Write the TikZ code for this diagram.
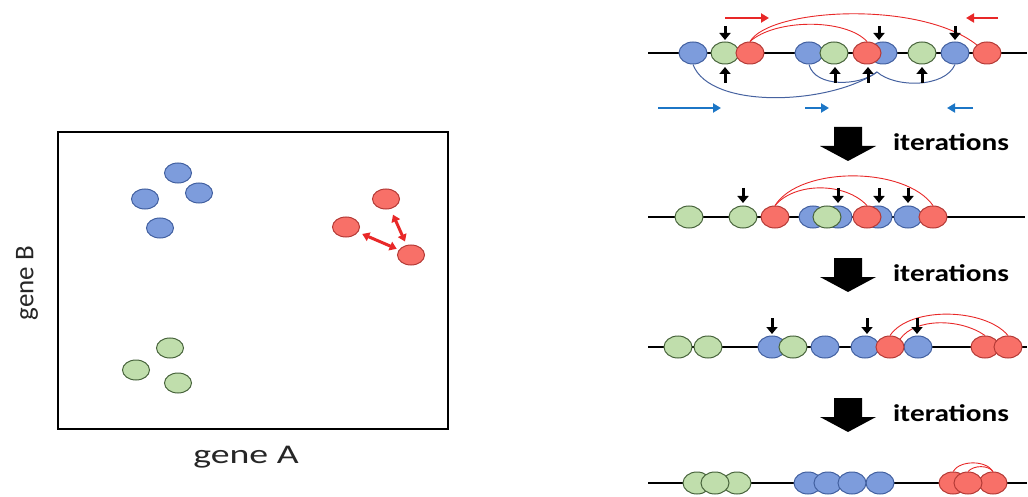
\documentclass[tikz,border=0pt]{standalone}
\usepackage{fontspec}
\newfontfamily\carl{Carlito}
\usetikzlibrary{shapes.geometric,arrows.meta,calc}
\definecolor{bfill}{RGB}{125,156,220}
\definecolor{bline}{RGB}{66,96,160}
\definecolor{gfill}{RGB}{192,222,172}
\definecolor{gline}{RGB}{72,100,60}
\definecolor{rfill}{RGB}{248,112,104}
\definecolor{rline}{RGB}{180,58,54}
\definecolor{arcred}{RGB}{232,40,40}
\definecolor{arcblue}{RGB}{70,98,160}
\definecolor{arrblue}{RGB}{28,118,198}
\begin{document}
\begin{tikzpicture}[x=1pt,y=-1pt,
  dot/.style={ellipse,draw,line width=1pt,inner sep=0pt,minimum width=28pt,minimum height=22pt},
  bdot/.style={dot,fill=bfill,draw=bline},
  gdot/.style={dot,fill=gfill,draw=gline},
  rdot/.style={dot,fill=rfill,draw=rline},
  pdot/.style={minimum width=27pt,minimum height=20pt},
  chain/.style={line width=1.6pt,black},
  pointer/.style={line width=3pt,-{Triangle[width=11pt,length=7pt]}},
  redarc/.style={arcred,line width=0.9pt},
  bluearc/.style={arcblue,line width=1pt},
  redmove/.style={arcred,line width=2.8pt,-{Triangle[width=9pt,length=8pt]}},
  bluemove/.style={arrblue,line width=2.8pt,-{Triangle[width=9pt,length=8pt]}},
  pull/.style={arcred,line width=3pt,{Triangle[width=9pt,length=7pt]}-{Triangle[width=9pt,length=7pt]}},
  iterlabel/.style={font=\carl\bfseries\fontsize{24}{24}\selectfont,anchor=center},
  axislabel/.style={font=\carl\fontsize{27}{27}\selectfont,text=black!85}
]
\useasboundingbox (0,0) rectangle (1028,497);

% ---------- scatter plot: gene A vs gene B ----------
\node[draw,line width=2.2pt,minimum width=390pt,minimum height=297pt,anchor=north west,inner sep=0pt] (plot) at (57,131) {};
\node[axislabel] (xlab) at (246,457) {\scalebox{1.4}[1]{gene A}};
\node[axislabel,rotate=90] (ylab) at (27,283) {gene B};

\node[bdot,pdot] (pb1) at (178,173) {};
\node[bdot,pdot] (pb2) at (145,199) {};
\node[bdot,pdot] (pb3) at (199,193) {};
\node[bdot,pdot] (pb4) at (160,228) {};

\node[rdot,pdot] (pr1) at (386,199) {};
\node[rdot,pdot] (pr2) at (346,227) {};
\node[rdot,pdot] (pr3) at (411,255) {};
\draw[pull] ($(pr2)!0.25!(pr3)$) -- ($(pr2)!0.78!(pr3)$);
\draw[pull] ($(pr1)!0.28!(pr3)$) -- ($(pr1)!0.76!(pr3)$);

\node[gdot,pdot] (pg1) at (170,348) {};
\node[gdot,pdot] (pg2) at (136,370) {};
\node[gdot,pdot] (pg3) at (178,383) {};

% ---------- chain 1 ----------
\draw[chain] (648,53) coordinate (l1a) -- (1027,53) coordinate (l1b);
\node[bdot] (a1) at (693,53) {};
\node[bdot] (a4) at (809,53) {};
\node[bdot] (a6) at (883,53) {};
\node[bdot] (a9) at (955,53) {};
\node[gdot] (a2) at (725,53) {};
\node[gdot] (a5) at (834,53) {};
\node[gdot] (a8) at (922,53) {};
\node[rdot] (a3) at (750,53) {};
\node[rdot] (a7) at (867,53) {};
\node[rdot] (a10) at (987,53) {};
\coordinate (meet) at (877,72);
\draw[bluearc] (a1.south) .. controls (710,110) and (830,105) .. (meet);
\draw[bluearc] (a4.south) .. controls (815,88) and (860,86) .. (meet);
\draw[bluearc] (meet) .. controls (895,88) and (945,88) .. (a9.south);
\draw[redarc] (a3.north) .. controls (770,8) and (920,0) .. (a10.north west);
\draw[redarc] (a3.north) .. controls (775,19) and (845,18) .. (a7.north);
\foreach \x in {725,879,955} \draw[pointer] (\x,26) -- (\x,40);
\foreach \x in {725,835,868,922} \draw[pointer] (\x,83) -- (\x,67);
\draw[redmove] (725,18) -- (769,18);
\draw[redmove] (998,18) -- (966,18);
\draw[bluemove] (658,108) -- (721,108);
\draw[bluemove] (805,108) -- (829,108);
\draw[bluemove] (973,108) -- (947,108);

% ---------- iteration steps ----------
\foreach \t/\n in {127/1,258/2,398/3}{
  \fill (834,\t) -- (862,\t) -- (862,\t+19) -- (876,\t+19) -- (848,\t+34) -- (820,\t+19) -- (834,\t+19) -- cycle;
  \node[iterlabel] (it\n) at (951,\t+15) {\scalebox{1.22}[1]{iterations}};
}

% ---------- chain 2 ----------
\draw[chain] (648,217) -- (1025,217);
\node[bdot] (b4) at (813,217) {};
\node[bdot] (b6) at (838,217) {};
\node[bdot] (b8) at (878,217) {};
\node[bdot] (b9) at (908,217) {};
\node[gdot] (b1) at (689,217) {};
\node[gdot] (b2) at (743,217) {};
\node[gdot] (b5) at (827,217) {};
\node[rdot] (b3) at (775,217) {};
\node[rdot] (b7) at (867,217) {};
\node[rdot] (b10) at (933,217) {};
\draw[redarc] (b3.north) .. controls (800,166) and (905,166) .. (b10.north);
\draw[redarc] (b3.north) .. controls (795,182) and (845,182) .. (b7.north);
\foreach \x in {743,838,879,908} \draw[pointer] (\x,188) -- (\x,203);

% ---------- chain 3 ----------
\draw[chain] (648,347) -- (1027,347);
\node[bdot] (c3) at (772,347) {};
\node[bdot] (c5) at (825,347) {};
\node[bdot] (c6) at (865,347) {};
\node[bdot] (c8) at (918,347) {};
\node[gdot] (c1) at (678,347) {};
\node[gdot] (c2) at (708,347) {};
\node[gdot] (c4) at (793,347) {};
\node[rdot] (c7) at (890,347) {};
\node[rdot] (c9) at (985,347) {};
\node[rdot] (c10) at (1008,347) {};
\draw[redarc] (c10.north) .. controls (985,308) and (910,306) .. (c7.north);
\draw[redarc] (c9.north) .. controls (960,318) and (915,318) .. (c7.north east);
\foreach \x in {772,867,917} \draw[pointer] (\x,318) -- (\x,334);

% ---------- chain 4 ----------
\draw[chain] (648,483) -- (1027,483);
\node[gdot] (d1) at (697,483) {};
\node[gdot] (d3) at (737,483) {};
\node[gdot] (d2) at (715,483) {};
\node[bdot] (d1b) at (808,483) {};
\node[bdot] (d2b) at (828,483) {};
\node[bdot] (d4b) at (880,483) {};
\node[bdot] (d3b) at (852,483) {};
\node[rdot] (d1r) at (953,483) {};
\node[rdot] (d3r) at (993,483) {};
\node[rdot] (d2r) at (968,483) {};
\draw[redarc] (d1r.north) .. controls (960,460) and (986,460) .. (d3r.north);
\draw[redarc] (d2r.north) .. controls (974,465) and (988,465) .. (d3r.north);
\end{tikzpicture}
\end{document}
